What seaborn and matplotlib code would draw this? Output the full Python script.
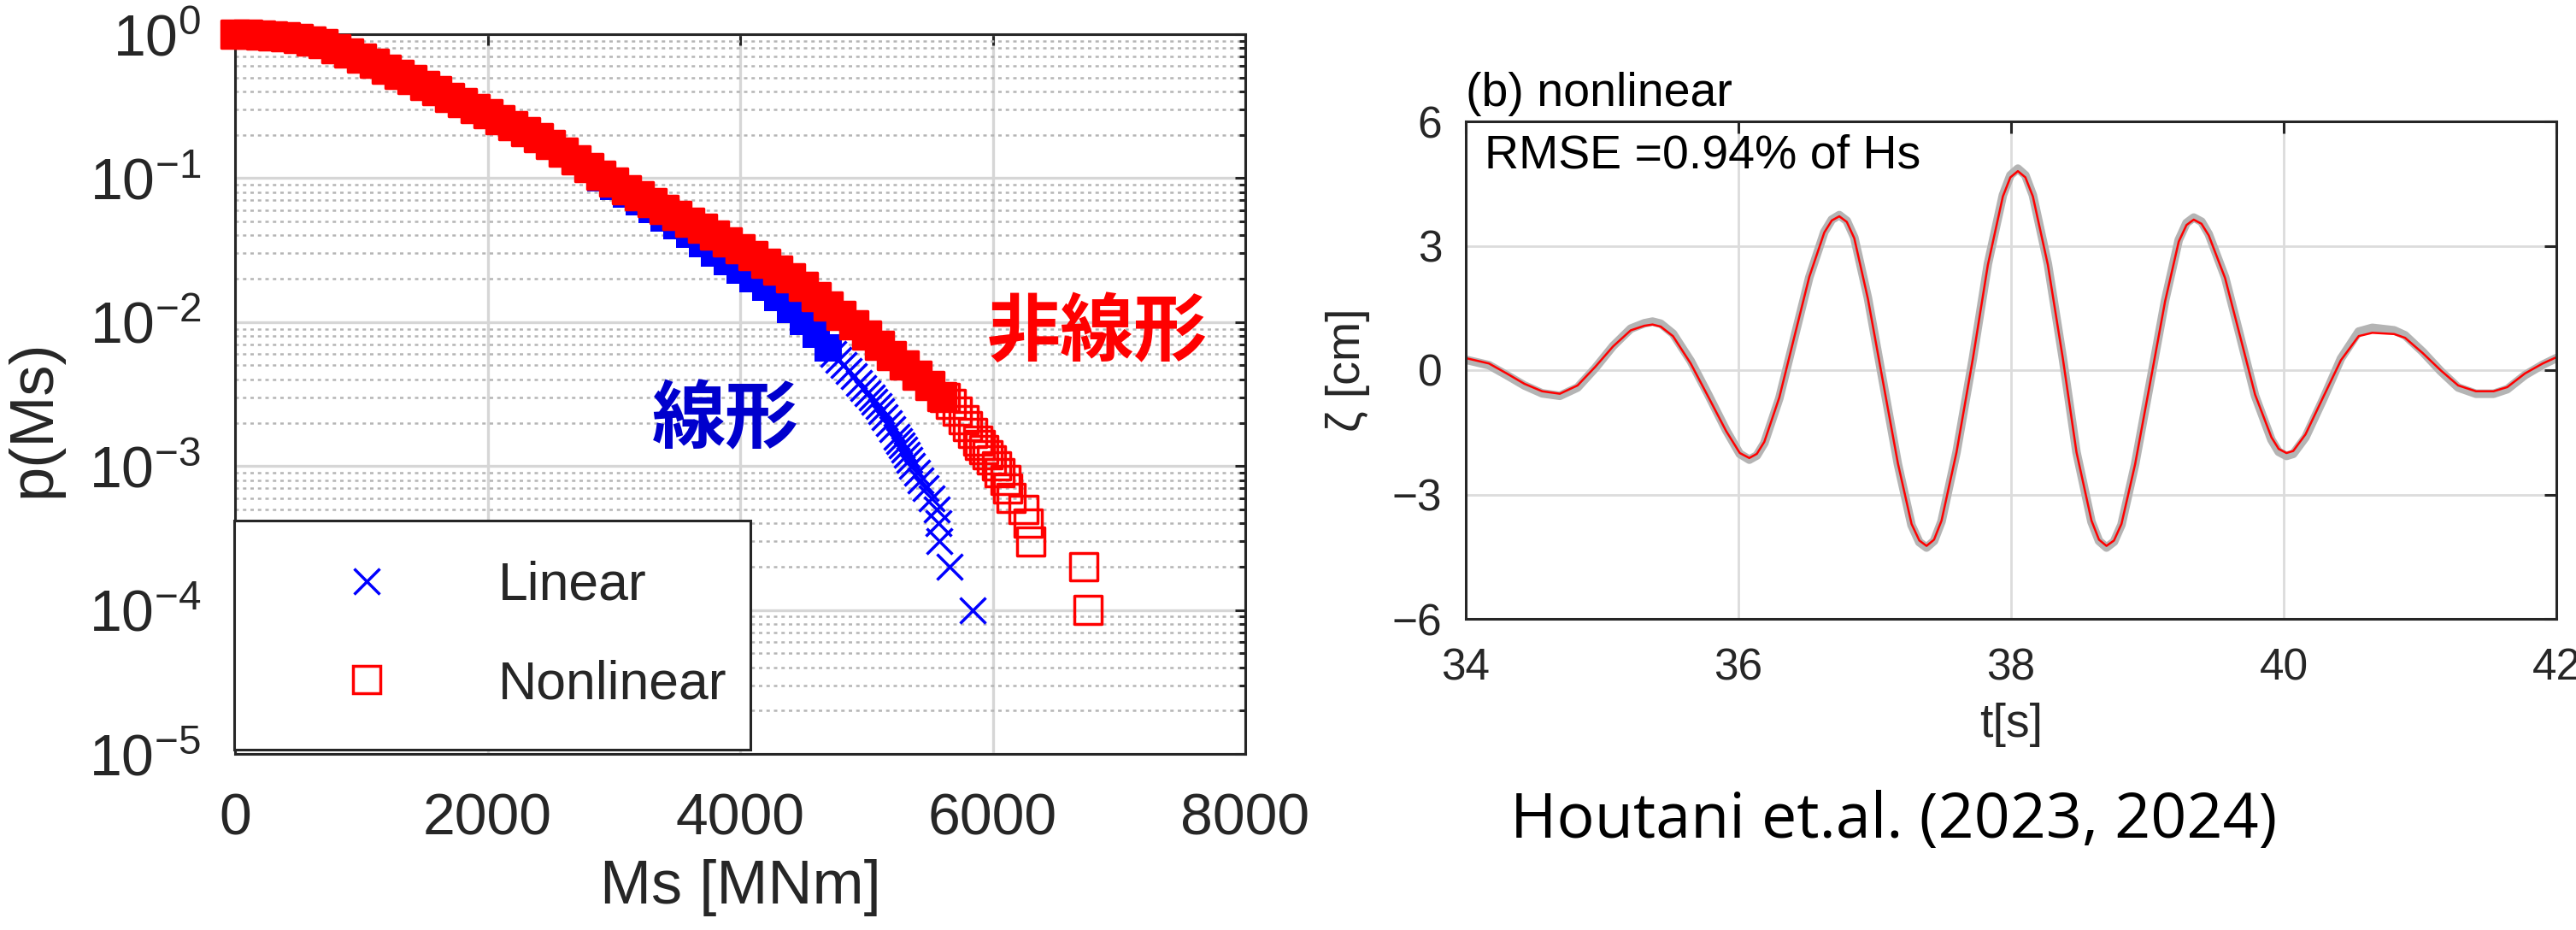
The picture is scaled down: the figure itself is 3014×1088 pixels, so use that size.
import matplotlib
matplotlib.use("Agg")
import matplotlib.pyplot as plt
import numpy as np
import seaborn as sns
from matplotlib.lines import Line2D
from matplotlib.ticker import LogLocator, NullFormatter, FixedLocator

# ---------------- Left panel data: exceedance probability p(Ms) ----------------
# Nonlinear (red squares) - dense part of the curve
nl_dense_ms = [0, 100, 200, 300, 400, 500, 600, 700, 800, 900,
               1000, 1100, 1200, 1300, 1400, 1500, 1600, 1700, 1800, 1900,
               2000, 2100, 2200, 2300, 2400, 2500, 2600, 2700, 2800, 2900,
               3000, 3100, 3200, 3300, 3400, 3500, 3600, 3700, 3800, 3900,
               4000, 4100, 4200, 4300, 4400, 4500, 4600, 4700, 4800, 4900,
               5000, 5100, 5200, 5300, 5400, 5500, 5600]
nl_dense_p = [1.000, 0.998, 0.991, 0.979, 0.964, 0.938, 0.902, 0.855, 0.798, 0.738,
              0.679, 0.624, 0.574, 0.527, 0.484, 0.442, 0.403, 0.366, 0.334, 0.306,
              0.281, 0.256, 0.232, 0.210, 0.191, 0.171, 0.151, 0.134, 0.119, 0.105,
              0.0933, 0.0836, 0.0750, 0.0676, 0.0610, 0.0550, 0.0495, 0.0447, 0.0403, 0.0363,
              0.0324, 0.0288, 0.0257, 0.0229, 0.0202, 0.0176, 0.0151, 0.0130, 0.0112, 0.00955,
              0.00813, 0.00692, 0.00589, 0.00501, 0.00427, 0.00363, 0.00305]
# Nonlinear - sparse tail (individual squares)
nl_tail_ms = [5620, 5670, 5720, 5770, 5800, 5840, 5880, 5900, 5930, 5960, 5990,
              6030, 6055, 6100, 6120, 6145, 6245, 6280, 6300, 6720, 6755]
nl_tail_p = [3.0e-3, 2.7e-3, 2.4e-3, 2.1e-3, 1.9e-3, 1.7e-3, 1.5e-3, 1.4e-3, 1.3e-3, 1.2e-3, 1.1e-3,
             1.0e-3, 9e-4, 8e-4, 7e-4, 6e-4, 5e-4, 4e-4, 3e-4, 2e-4, 1e-4]

# Linear (blue crosses) - dense part
lin_dense_ms = [0, 200, 400, 600, 800, 1000, 1200, 1400, 1600, 1800, 2000, 2200, 2400,
                2500, 2600, 2700, 2800, 2900, 3000, 3100, 3200, 3300, 3400, 3500,
                3600, 3700, 3800, 3900, 4000, 4100, 4200, 4300, 4400, 4500,
                4600, 4700]
lin_dense_p = [1.000, 0.991, 0.964, 0.902, 0.798, 0.679, 0.574, 0.484, 0.403, 0.334, 0.281, 0.231, 0.188,
               0.168, 0.149, 0.131, 0.115, 0.101, 0.0881, 0.0776, 0.0684, 0.0603, 0.0531, 0.0468,
               0.0407, 0.0351, 0.0302, 0.0263, 0.0229, 0.0200, 0.0174, 0.0148, 0.0123, 0.0101,
               0.00822, 0.00661]
# Linear - sparse tail (individual crosses)
lin_tail_ms = [4740, 4780, 4820, 4857, 4897, 4940, 4976, 5010, 5040, 5065, 5095,
               5120, 5145, 5175, 5205, 5240, 5260, 5280, 5300, 5320, 5340,
               5360, 5400, 5430, 5468, 5513, 5558, 5570, 5580, 5655, 5840]
lin_tail_p = [6.0e-3, 5.5e-3, 5.0e-3, 4.6e-3, 4.2e-3, 3.8e-3, 3.5e-3, 3.2e-3, 3.0e-3, 2.8e-3, 2.6e-3,
              2.4e-3, 2.2e-3, 2.0e-3, 1.8e-3, 1.6e-3, 1.5e-3, 1.4e-3, 1.3e-3, 1.2e-3, 1.1e-3,
              1.0e-3, 9e-4, 8e-4, 7e-4, 6e-4, 5e-4, 4e-4, 3e-4, 2e-4, 1e-4]

left_xticks = [0, 2000, 4000, 6000, 8000]
legend_labels = ["Linear", "Nonlinear"]

# ---------------- Right panel data: surface elevation time series ----------------
wave_t = [34.00, 34.17, 34.30, 34.43, 34.56, 34.69, 34.82, 34.95, 35.08, 35.21,
          35.31, 35.37, 35.43, 35.52, 35.65, 35.78, 35.91, 36.01, 36.08, 36.135,
          36.19, 36.30, 36.41, 36.52, 36.63, 36.685, 36.74, 36.795, 36.85, 36.95,
          37.06, 37.17, 37.27, 37.327, 37.38, 37.435, 37.49, 37.60, 37.72, 37.83,
          37.94, 37.995, 38.05, 38.105, 38.16, 38.27, 38.38, 38.48, 38.59, 38.645,
          38.70, 38.755, 38.81, 38.91, 39.02, 39.13, 39.23, 39.287, 39.34, 39.397,
          39.45, 39.57, 39.68, 39.79, 39.91, 39.963, 40.02, 40.07, 40.16, 40.29,
          40.42, 40.55, 40.65, 40.81, 40.89, 41.02, 41.15, 41.28, 41.41, 41.54,
          41.64, 41.77, 41.90, 42.00]
wave_pred = [0.29, 0.16, -0.08, -0.33, -0.51, -0.57, -0.37, 0.08, 0.57, 0.96,
             1.07, 1.10, 1.05, 0.82, 0.16, -0.65, -1.47, -2.00, -2.12, -2.02,
             -1.73, -0.66, 0.80, 2.25, 3.32, 3.61, 3.71, 3.575, 3.18, 1.72,
             -0.27, -2.25, -3.71, -4.11, -4.24, -4.09, -3.63, -1.98, 0.28, 2.54,
             4.19, 4.65, 4.80, 4.65, 4.19, 2.54, 0.28, -1.98, -3.63, -4.09,
             -4.24, -4.11, -3.71, -2.27, -0.31, 1.66, 3.10, 3.50, 3.63, 3.53,
             3.25, 2.22, 0.82, -0.59, -1.62, -1.90, -2.00, -1.95, -1.55, -0.65,
             0.24, 0.82, 0.90, 0.87, 0.78, 0.41, 0.00, -0.37, -0.51, -0.51,
             -0.41, -0.08, 0.16, 0.31]
wave_meas = [0.25, 0.12, -0.12, -0.37, -0.56, -0.62, -0.42, 0.05, 0.58, 1.00,
             1.13, 1.17, 1.12, 0.88, 0.22, -0.60, -1.45, -2.02, -2.16, -2.06,
             -1.76, -0.68, 0.78, 2.24, 3.33, 3.63, 3.74, 3.60, 3.20, 1.74,
             -0.27, -2.27, -3.74, -4.15, -4.28, -4.12, -3.65, -1.98, 0.28, 2.56,
             4.22, 4.70, 4.86, 4.70, 4.22, 2.56, 0.28, -1.98, -3.66, -4.12,
             -4.28, -4.14, -3.73, -2.27, -0.30, 1.68, 3.14, 3.55, 3.68, 3.58,
             3.28, 2.24, 0.82, -0.62, -1.68, -1.97, -2.07, -2.02, -1.62, -0.70,
             0.28, 0.93, 1.02, 0.96, 0.84, 0.44, -0.02, -0.42, -0.57, -0.57,
             -0.46, -0.12, 0.13, 0.29]
right_xticks = [34, 36, 38, 40, 42]
right_yticks = [-6, -3, 0, 3, 6]

# ---------------- Style ----------------
sns.set_style("white")
plt.rcParams['font.family'] = ['Liberation Sans', 'DejaVu Sans']
plt.rcParams['mathtext.fontset'] = 'custom'
plt.rcParams['mathtext.rm'] = 'Liberation Sans'
plt.rcParams['mathtext.it'] = 'Liberation Sans:italic'
plt.rcParams['mathtext.bf'] = 'Liberation Sans:bold'
plt.rcParams['mathtext.default'] = 'regular'

DARK = '#262626'
W, H = 3014, 1088
fig = plt.figure(figsize=(W / 100, H / 100), dpi=100)

def px_axes(l, t, r, b):
    return fig.add_axes([l / W, 1 - b / H, (r - l) / W, (b - t) / H])

ax1 = px_axes(275, 40, 1457, 882)
ax2 = px_axes(1715, 142, 2991, 724)

# ---------------- Left panel ----------------
sq_s = 23.4 ** 2
sns.scatterplot(x=lin_dense_ms, y=lin_dense_p, ax=ax1, marker='s', s=22.5 ** 2,
                color='blue', edgecolor='blue', linewidth=0, clip_on=False,
                zorder=3, legend=False)
sns.scatterplot(x=lin_tail_ms, y=lin_tail_p, ax=ax1, marker='x', s=21.6 ** 2,
                color='blue', linewidth=2.5, clip_on=False, zorder=3, legend=False)
sns.scatterplot(x=nl_dense_ms, y=nl_dense_p, ax=ax1, marker='s', s=sq_s,
                color='red', edgecolor='red', linewidth=2.5, clip_on=False,
                zorder=4, legend=False)
sns.scatterplot(x=nl_tail_ms, y=nl_tail_p, ax=ax1, marker='s', s=sq_s,
                color='red', facecolor='none', edgecolor='red', linewidth=2.5,
                clip_on=False, zorder=4, legend=False)

ax1.set_yscale('log')
ax1.set_xlim(0, 8000)
ax1.set_ylim(1e-5, 1)
ax1.set_axisbelow(True)
ax1.xaxis.set_major_locator(FixedLocator(left_xticks))
ax1.yaxis.set_major_locator(LogLocator(base=10, numticks=12))
ax1.yaxis.set_minor_locator(LogLocator(base=10, subs=np.arange(2, 10), numticks=12))
ax1.yaxis.set_minor_formatter(NullFormatter())
ax1.grid(which='major', axis='both', color='#d6d6d6', lw=2.4)
ax1.grid(which='minor', axis='y', color='#b5b5b5', lw=1.8, ls=(0, (1.6, 1.9)))
for sp in ax1.spines.values():
    sp.set_color(DARK)
    sp.set_linewidth(2.2)
ax1.tick_params(which='both', direction='in', top=True, right=True,
                colors=DARK, width=2.2)
ax1.tick_params(which='major', length=9, labelsize=49)
ax1.tick_params(which='minor', length=5)
ax1.tick_params(axis='x', which='major', pad=32)
ax1.tick_params(axis='y', which='major', pad=29)
ax1.set_xlabel('Ms [MNm]', fontsize=52, color=DARK)
ax1.xaxis.set_label_coords(0.5, -0.146)
ax1.set_ylabel('p(Ms)', fontsize=52, color=DARK)
ax1.yaxis.set_label_coords(-0.171, 0.466)

ax1.text(0.4856, 0.4632, '線形', transform=ax1.transAxes, fontsize=62,
         fontweight='bold', color='#0000cd', ha='center', va='center',
         family=['Noto Sans CJK JP'], zorder=6)
ax1.text(0.8536, 0.5843, '非線形', transform=ax1.transAxes, fontsize=62,
         fontweight='bold', color='#ff0000', ha='center', va='center',
         family=['Noto Sans CJK JP'], zorder=6)

handles = [Line2D([], [], ls='none', marker='x', color='blue', markersize=21.6, mew=2.5),
           Line2D([], [], ls='none', marker='s', markerfacecolor='none',
                  markeredgecolor='red', markersize=23.4, mew=2.5)]
leg = ax1.legend(handles, legend_labels, loc='upper left',
                 bbox_to_anchor=(274 / W, 1 - 867 / H, (878 - 274) / W, (867 - 609) / H),
                 bbox_transform=fig.transFigure, mode='expand',
                 fontsize=45, frameon=True, fancybox=False, framealpha=1,
                 borderpad=0.75, handlelength=3.46, handletextpad=0.74,
                 labelspacing=0.9, borderaxespad=0)
leg.get_frame().set_edgecolor(DARK)
leg.get_frame().set_linewidth(2.2)
leg.set_zorder(10)

# ---------------- Right panel ----------------
sns.lineplot(x=wave_t, y=wave_meas, ax=ax2, color='#b4b4b4', lw=7.2)
sns.lineplot(x=wave_t, y=wave_pred, ax=ax2, color='#ff0000', lw=1.8)
ax2.set_xlim(34, 42)
ax2.set_ylim(-6, 6)
ax2.set_xticks(right_xticks)
ax2.set_yticks(right_yticks)
ax2.set_axisbelow(True)
ax2.grid(True, color='#dcdcdc', lw=2.0)
for sp in ax2.spines.values():
    sp.set_color(DARK)
    sp.set_linewidth(2.2)
ax2.tick_params(direction='in', top=True, right=True, colors=DARK, width=2.2,
                length=10, labelsize=37)
ax2.tick_params(axis='x', pad=24)
ax2.tick_params(axis='y', pad=20)
ax2.set_xlabel('t[s]', fontsize=40, color=DARK)
ax2.xaxis.set_label_coords(0.5, -0.168)
ax2.set_ylabel('ζ [cm]', fontsize=40, color=DARK)
ax2.yaxis.set_label_coords(-0.0878, 0.5)
ax2.text(0.0, 1.031, '(b) nonlinear', transform=ax2.transAxes, fontsize=40,
         ha='left', va='baseline', color='black')
ax2.text(0.017, 0.9055, 'RMSE =0.94% of Hs', transform=ax2.transAxes, fontsize=40,
         ha='left', va='baseline', color='black')

fig.text(1767 / W, 1 - 961 / H, 'Houtani et.al. (2023, 2024)', fontsize=53,
         family=['Open Sans'], ha='left', va='center', color='black')

fig.savefig('out.png', dpi=100)
